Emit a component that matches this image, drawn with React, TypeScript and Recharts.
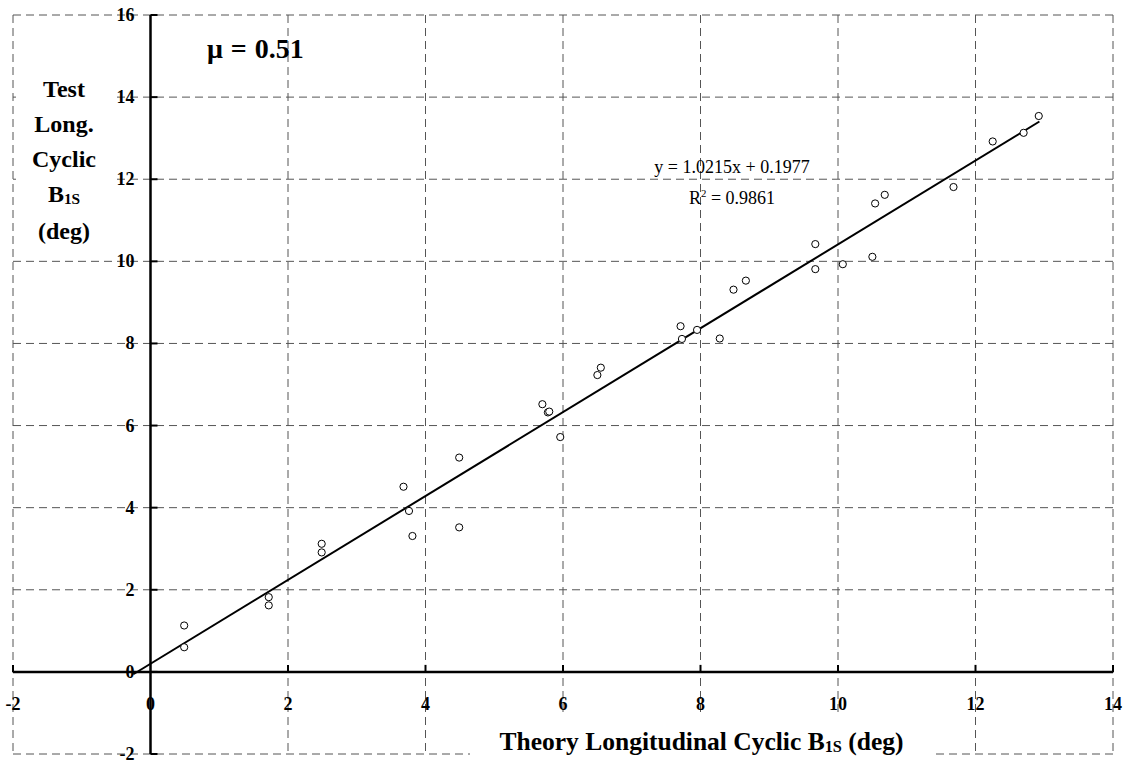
import {
  CartesianGrid,
  ReferenceDot,
  ReferenceLine,
  Scatter,
  ScatterChart,
  XAxis,
  YAxis,
} from "recharts";

// theory vs test longitudinal cyclic B1S (deg), mu = 0.51
const theoryB1s = [
  0.49, 0.49, 1.72, 1.72, 2.49, 2.49, 3.68, 3.76, 3.81, 4.49, 4.49, 5.7,
  5.78, 5.8, 5.96, 6.5, 6.55, 7.71, 7.73, 7.95, 8.28, 8.48, 8.66, 9.67,
  9.67, 10.07, 10.5, 10.54, 10.68, 11.68, 12.25, 12.7, 12.92,
];
const testB1s = [
  1.13, 0.6, 1.82, 1.62, 3.12, 2.91, 4.51, 3.92, 3.31, 5.22, 3.52, 6.52,
  6.32, 6.34, 5.72, 7.23, 7.41, 8.42, 8.11, 8.33, 8.12, 9.31, 9.53, 10.42,
  9.81, 9.93, 10.11, 11.41, 11.62, 11.81, 12.92, 13.13, 13.54,
];

const xTicks = [-2, 0, 2, 4, 6, 8, 10, 12, 14];
const yTicks = [-2, 0, 2, 4, 6, 8, 10, 12, 14, 16];

// linear fit shown on the chart
const slope = 1.0215;
const intercept = 0.1977;
const fitFrom = -0.25;
const fitTo = 12.93;

const points = theoryB1s.map((x, i) => ({ x, y: testB1s[i] }));
const fitLine = [fitFrom, fitTo].map((x) => ({ x, y: slope * x + intercept }));

const serif = '"Times New Roman", "Liberation Serif", serif';
const tickStyle = {
  fontFamily: serif,
  fontWeight: 700,
  fontSize: 18,
  fill: "#000",
};

function Ring(props: any) {
  return (
    <circle
      cx={props.cx}
      cy={props.cy}
      r={3.6}
      fill="#fff"
      stroke="#000"
      strokeWidth={1}
    />
  );
}

function XTick(props: any) {
  const { cx, cy, value } = props;
  return (
    <g>
      {value !== 0 && (
        <line x1={cx} x2={cx} y1={cy - 7} y2={cy} stroke="#000" strokeWidth={2} />
      )}
      <text x={cx} y={cy + 38} textAnchor="middle" style={tickStyle}>
        {value}
      </text>
    </g>
  );
}

function YTick(props: any) {
  const { cx, cy, value } = props;
  return (
    <g>
      <line x1={cx} x2={cx + 7} y1={cy} y2={cy} stroke="#000" strokeWidth={2} />
      <text x={cx - 16} y={cy + 6} textAnchor="end" style={tickStyle}>
        {value}
      </text>
    </g>
  );
}

const sub = {
  fontSize: "0.64em",
  position: "relative" as const,
  top: "0.12em",
};

export default function App() {
  return (
    <div
      style={{
        position: "absolute",
        left: 0,
        top: 0,
        width: 1130,
        height: 763,
        background: "#fff",
        fontFamily: serif,
      }}
    >
      <ScatterChart
        width={1130}
        height={763}
        margin={{ top: 15, right: 17, bottom: 9, left: 13 }}
      >
        <CartesianGrid stroke="#555" strokeDasharray="8 5" />
        <XAxis
          type="number"
          dataKey="x"
          domain={[-2, 14]}
          ticks={xTicks}
          hide
        />
        <YAxis
          type="number"
          dataKey="y"
          domain={[-2, 16]}
          ticks={yTicks}
          hide
        />

        <ReferenceLine y={0} stroke="#000" strokeWidth={2.5} />
        <ReferenceLine x={0} stroke="#000" strokeWidth={2.5} />

        {xTicks.map((t) => (
          <ReferenceDot
            key={"x" + t}
            x={t}
            y={0}
            r={0}
            ifOverflow="visible"
            shape={(p: any) => <XTick {...p} value={t} />}
          />
        ))}
        {yTicks.map((t) => (
          <ReferenceDot
            key={"y" + t}
            x={0}
            y={t}
            r={0}
            ifOverflow="visible"
            shape={(p: any) => <YTick {...p} value={t} />}
          />
        ))}

        <ReferenceLine
          segment={fitLine}
          stroke="#000"
          strokeWidth={2}
          ifOverflow="visible"
        />

        <Scatter data={points} isAnimationActive={false} shape={Ring} />
      </ScatterChart>

      {/* mu label */}
      <div
        style={{
          position: "absolute",
          left: 207,
          top: 34,
          fontSize: 28,
          fontWeight: "bold",
          lineHeight: "30px",
          wordSpacing: 1,
          whiteSpace: "nowrap",
        }}
      >
        μ = 0.51
      </div>

      {/* fit equation */}
      <div
        style={{
          position: "absolute",
          left: 632,
          width: 200,
          top: 152,
          fontSize: 18,
          lineHeight: "31px",
          textAlign: "center",
          whiteSpace: "nowrap",
        }}
      >
        <div>y = 1.0215x + 0.1977</div>
        <div>
          R<sup style={{ fontSize: "0.6em", lineHeight: 0 }}>2</sup> = 0.9861
        </div>
      </div>

      {/* y title */}
      <div
        style={{
          position: "absolute",
          left: 16,
          top: 68,
          width: 96,
          padding: "4px 0",
          background: "#fff",
          fontSize: 24,
          fontWeight: "bold",
          lineHeight: "35px",
          textAlign: "center",
        }}
      >
        <div>Test</div>
        <div>Long.</div>
        <div>Cyclic</div>
        <div>
          B<span style={sub}>1S</span>
        </div>
        <div>(deg)</div>
      </div>

      {/* x title */}
      <div
        style={{
          position: "absolute",
          left: 470,
          top: 712,
          width: 463,
          height: 51,
          background: "#fff",
          fontSize: 25.5,
          fontWeight: "bold",
          lineHeight: "28px",
          paddingTop: 16,
          boxSizing: "border-box",
          textAlign: "center",
          whiteSpace: "nowrap",
        }}
      >
        Theory Longitudinal Cyclic B<span style={sub}>1S</span> (deg)
      </div>
    </div>
  );
}
